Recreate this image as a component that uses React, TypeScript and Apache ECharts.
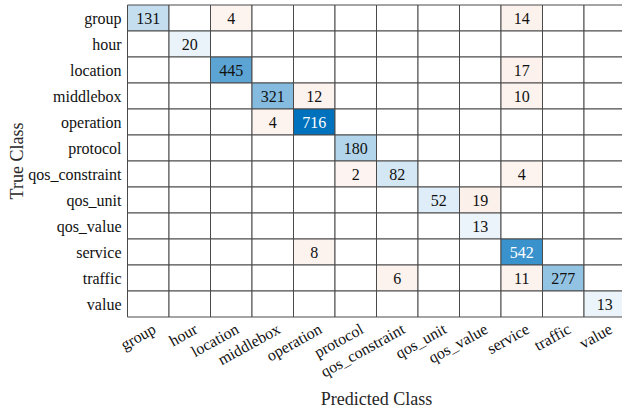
import React, { useEffect, useRef } from "react";
import * as echarts from "echarts";

const classes = [
  "group", "hour", "location", "middlebox", "operation", "protocol",
  "qos_constraint", "qos_unit", "qos_value", "service", "traffic", "value",
];

const rowGroup = [131, 0, 4, 0, 0, 0, 0, 0, 0, 14, 0, 0];
const rowHour = [0, 20, 0, 0, 0, 0, 0, 0, 0, 0, 0, 0];
const rowLocation = [0, 0, 445, 0, 0, 0, 0, 0, 0, 17, 0, 0];
const rowMiddlebox = [0, 0, 0, 321, 12, 0, 0, 0, 0, 10, 0, 0];
const rowOperation = [0, 0, 0, 4, 716, 0, 0, 0, 0, 0, 0, 0];
const rowProtocol = [0, 0, 0, 0, 0, 180, 0, 0, 0, 0, 0, 0];
const rowQosConstraint = [0, 0, 0, 0, 0, 2, 82, 0, 0, 4, 0, 0];
const rowQosUnit = [0, 0, 0, 0, 0, 0, 0, 52, 19, 0, 0, 0];
const rowQosValue = [0, 0, 0, 0, 0, 0, 0, 0, 13, 0, 0, 0];
const rowService = [0, 0, 0, 0, 8, 0, 0, 0, 0, 542, 0, 0];
const rowTraffic = [0, 0, 0, 0, 0, 0, 6, 0, 0, 11, 277, 0];
const rowValue = [0, 0, 0, 0, 0, 0, 0, 0, 0, 0, 0, 13];

const rows = [
  rowGroup, rowHour, rowLocation, rowMiddlebox, rowOperation, rowProtocol,
  rowQosConstraint, rowQosUnit, rowQosValue, rowService, rowTraffic, rowValue,
];

const FONT = "Times New Roman";

function blend(base: number[], t: number) {
  const c = base.map((b) => Math.round(255 - (255 - b) * t));
  return `rgb(${c[0]},${c[1]},${c[2]})`;
}

export default function App() {
  const ref = useRef<HTMLDivElement>(null);
  useEffect(() => {
    document.body.style.margin = "0";
    if (!ref.current) return;
    const chart = echarts.init(ref.current, undefined, { renderer: "svg" });
    let maxV = 0;
    rows.forEach((r) => r.forEach((v) => (maxV = Math.max(maxV, v))));
    const data: number[][] = [];
    rows.forEach((r, i) => r.forEach((v, j) => data.push([j, i, v])));
    chart.setOption({
      animation: false,
      textStyle: { fontFamily: FONT },
      grid: {
        left: 127.5,
        top: 5,
        width: 498,
        height: 312,
        containLabel: false,
        outerBoundsMode: "none",
      },
      xAxis: {
        type: "category",
        data: classes,
        name: "Predicted Class",
        nameLocation: "middle",
        nameGap: 73,
        nameMoveOverlap: false,
        nameTextStyle: { fontFamily: FONT, fontSize: 18, color: "#262626" },
        axisLine: { show: false },
        axisTick: { show: false },
        splitLine: { show: false },
        axisLabel: {
          rotate: 29,
          margin: 14,
          interval: 0,
          padding: [0, -7, 0, 0],
          fontFamily: FONT,
          fontSize: 16,
          color: "#111",
        },
      },
      yAxis: {
        type: "category",
        data: classes,
        inverse: true,
        name: "True Class",
        nameLocation: "middle",
        nameGap: 102,
        nameMoveOverlap: false,
        nameTextStyle: { fontFamily: FONT, fontSize: 18, color: "#262626" },
        axisLine: { show: false },
        axisTick: { show: false },
        splitLine: { show: false },
        axisLabel: {
          margin: 6,
          interval: 0,
          fontFamily: FONT,
          fontSize: 16,
          color: "#111",
        },
      },
      series: [
        {
          type: "custom",
          data,
          encode: { x: 0, y: 1 },
          renderItem: (params: any, api: any) => {
            const j = api.value(0);
            const i = api.value(1);
            const v = api.value(2);
            const p = api.coord([j, i]);
            const s = api.size([1, 1]);
            const t = v > 0 ? 0.06 + 0.94 * (v / maxV) : 0;
            const fill =
              v > 0 ? blend(i === j ? [0, 114, 189] : [217, 83, 25], t) : "#ffffff";
            const children: any[] = [
              {
                type: "rect",
                shape: { x: p[0] - s[0] / 2, y: p[1] - s[1] / 2, width: s[0], height: s[1] },
                style: { fill, stroke: "#4a4a4a", lineWidth: 1 },
              },
            ];
            if (v > 0) {
              children.push({
                type: "text",
                style: {
                  text: String(v),
                  x: p[0],
                  y: p[1],
                  align: "center",
                  verticalAlign: "middle",
                  fontFamily: FONT,
                  fontSize: 16,
                  fill: t > 0.7 ? "#ffffff" : "#111111",
                },
              });
            }
            return { type: "group", children };
          },
        },
      ],
    });
    return () => chart.dispose();
  }, []);
  return <div ref={ref} style={{ width: 622, height: 411 }} />;
}
